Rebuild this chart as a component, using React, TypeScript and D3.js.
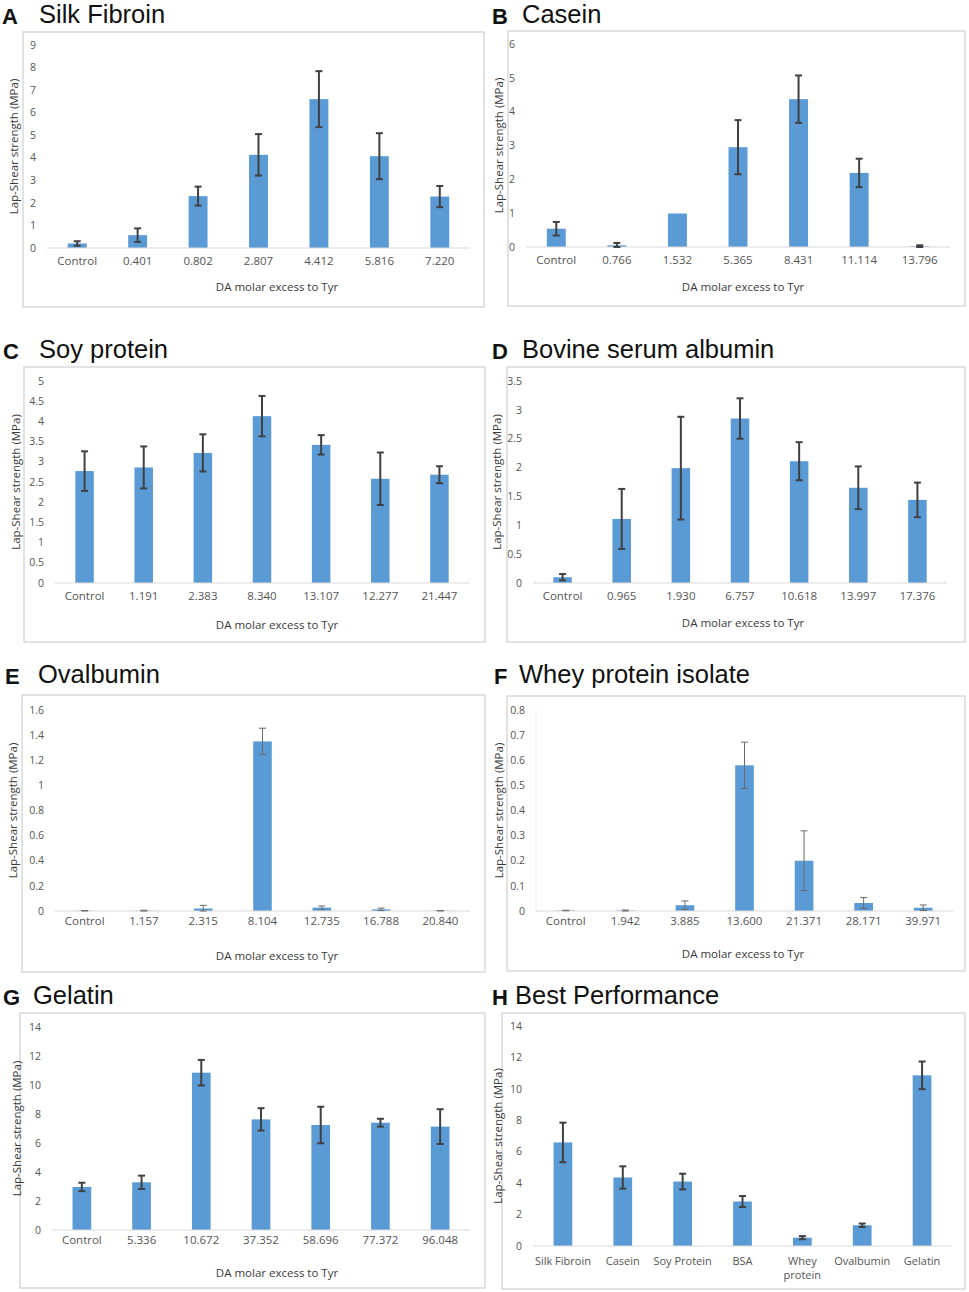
import React from 'react';
import * as d3 from 'd3';

// ---- data ----
const silkCats = ['Control', '0.401', '0.802', '2.807', '4.412', '5.816', '7.220'];
const silkMean = [0.2, 0.57, 2.3, 4.13, 6.6, 4.07, 2.28];
const silkErr = [0.1, 0.3, 0.42, 0.92, 1.24, 1.02, 0.47];

const caseinCats = ['Control', '0.766', '1.532', '5.365', '8.431', '11.114', '13.796'];
const caseinMean = [0.54, 0.05, 0.99, 2.95, 4.37, 2.19, 0.02];
const caseinErr = [0.2, 0.07, 0, 0.8, 0.7, 0.42, 0.03];

const soyCats = ['Control', '1.191', '2.383', '8.340', '13.107', '12.277', '21.447'];
const soyMean = [2.77, 2.86, 3.22, 4.13, 3.42, 2.58, 2.68];
const soyErr = [0.49, 0.52, 0.46, 0.5, 0.24, 0.65, 0.21];

const bsaCats = ['Control', '0.965', '1.930', '6.757', '10.618', '13.997', '17.376'];
const bsaMean = [0.1, 1.11, 1.99, 2.85, 2.11, 1.65, 1.44];
const bsaErr = [0.055, 0.52, 0.89, 0.35, 0.33, 0.37, 0.3];

const ovaCats = ['Control', '1.157', '2.315', '8.104', '12.735', '16.788', '20.840'];
const ovaMean = [0.002, 0.003, 0.02, 1.35, 0.027, 0.013, 0.002];
const ovaErr = [0.002, 0.003, 0.025, 0.105, 0.013, 0.01, 0.001];

const wheyCats = ['Control', '1.942', '3.885', '13.600', '21.371', '28.171', '39.971'];
const wheyMean = [0.002, 0.002, 0.023, 0.58, 0.2, 0.032, 0.013];
const wheyErr = [0.001, 0.002, 0.017, 0.092, 0.119, 0.022, 0.011];

const gelCats = ['Control', '5.336', '10.672', '37.352', '58.696', '77.372', '96.048'];
const gelMean = [2.97, 3.29, 10.85, 7.63, 7.24, 7.4, 7.13];
const gelErr = [0.29, 0.46, 0.88, 0.77, 1.26, 0.27, 1.2];

const bestCats = ['Silk Fibroin', 'Casein', 'Soy Protein', 'BSA', 'Whey\nprotein', 'Ovalbumin', 'Gelatin'];
const bestMean = [6.59, 4.36, 4.1, 2.83, 0.53, 1.32, 10.86];
const bestErr = [1.26, 0.71, 0.5, 0.35, 0.1, 0.11, 0.88];

const xTitle = 'DA molar excess to Tyr';
const yTitle = 'Lap-Shear strength (MPa)';

const BAR = '#5B9BD5';
const TICK = '#555555';
const TXT = '#3a3a3a';
const EDGE = '#d9d9d9';
const FONT = '"Open Sans", Lato, sans-serif';

interface PanelProps {
  letter: string;
  title: string;
  cats: string[];
  mean: number[];
  err: number[];
  yMax: number;
  step: number;
  box: [number, number, number, number];
  plot: [number, number, number, number]; // left, right, top, bottom
  head: [number, number, number]; // letter x, title x, baseline
  labelY: number;
  titleX: number;
  titleY: number | null;
  yTitleX: number;
  thin?: boolean;
  yLine?: boolean;
  catSize?: number;
}

const Panel: React.FC<PanelProps> = (p) => {
  const [l, r, t, b] = p.plot;
  const x = d3.scaleBand<string>().domain(p.cats).range([l, r]).paddingInner(0.687).paddingOuter(0.3435);
  const y = d3.scaleLinear().domain([0, p.yMax]).range([b, t]);
  const ticks = d3.range(0, p.yMax + p.step / 2, p.step);
  const bw = x.bandwidth();
  const errColor = p.thin ? '#6a6a6a' : '#404040';
  const errWidth = p.thin ? 1 : 2;
  return (
    <g>
      <rect x={p.box[0]} y={p.box[1]} width={p.box[2] - p.box[0]} height={p.box[3] - p.box[1]}
        fill="#fff" stroke={EDGE} strokeWidth={1.5} />
      <text x={p.head[0]} y={p.head[2] + 2} fontFamily="Liberation Sans, Arial, sans-serif"
        fontWeight="bold" fontSize={22} fill="#111">{p.letter}</text>
      <text x={p.head[1]} y={p.head[2] + 1} fontFamily="Liberation Sans, Arial, sans-serif"
        fontSize={25.5} fill="#111">{p.title}</text>
      {ticks.map((v) => (
        <text key={v} x={l - 11} y={y(v)} dy="0.35em" textAnchor="end" fontSize={10.5}
          fontFamily={FONT} fill={TICK}>{+v.toFixed(2)}</text>
      ))}
      {p.yLine && <line x1={l} x2={l} y1={t} y2={b} stroke="#eeeeee" strokeWidth={1} />}
      {p.mean.map((v, i) => (
        <rect key={i} x={x(p.cats[i])} y={y(v)} width={bw} height={Math.max(0, b - y(v))} fill={BAR} />
      ))}
      <line x1={l} x2={r} y1={b} y2={b} stroke={EDGE} strokeWidth={1.2} />
      {p.mean.map((v, i) => {
        if (!p.err[i]) return null;
        const cx = (x(p.cats[i]) as number) + bw / 2;
        const y1 = y(v + p.err[i]);
        const y2 = y(Math.max(0, v - p.err[i]));
        return (
          <g key={'e' + i} stroke={errColor} strokeWidth={errWidth}>
            <line x1={cx} x2={cx} y1={y1} y2={y2} />
            <line x1={cx - 3.5} x2={cx + 3.5} y1={y1} y2={y1} />
            <line x1={cx - 3.5} x2={cx + 3.5} y1={y2} y2={y2} />
          </g>
        );
      })}
      {p.cats.map((c) => {
        const lines = c.split('\n');
        const cx = (x(c) as number) + bw / 2;
        return (
          <text key={c} x={cx} y={p.labelY} textAnchor="middle"
            fontSize={p.catSize ?? 11.5} fontFamily={FONT} fill={TICK}>
            {lines.map((s, k) => (
              <tspan key={k} x={cx} dy={k === 0 ? '0.35em' : '1.25em'}>{s}</tspan>
            ))}
          </text>
        );
      })}
      {p.titleY !== null && (
        <text x={p.titleX} y={p.titleY} dy="0.35em" textAnchor="middle" fontSize={11.5}
          fontFamily={FONT} fill={TXT}>{xTitle}</text>
      )}
      <text transform={`translate(${p.yTitleX},${(t + b) / 2}) rotate(-90)`} dy="0.35em"
        textAnchor="middle" fontSize={11.5} fontFamily={FONT} fill={TXT}>{yTitle}</text>
    </g>
  );
};

export default function App() {
  return (
    <svg width={969} height={1292} style={{ position: 'absolute', left: 0, top: 0, background: '#fff' }}>
      <Panel letter="A" title="Silk Fibroin" cats={silkCats} mean={silkMean} err={silkErr} yMax={9} step={1}
        box={[23, 32, 484, 307]} plot={[47, 470, 45, 248]} head={[2, 39, 22]} labelY={261}
        titleX={277} titleY={287} yTitleX={14} />
      <Panel letter="B" title="Casein" cats={caseinCats} mean={caseinMean} err={caseinErr} yMax={6} step={1}
        box={[508, 31, 965, 306]} plot={[526, 950, 44, 247]} head={[492, 522, 22]} labelY={260}
        titleX={743} titleY={287} yTitleX={499} />
      <Panel letter="C" title="Soy protein" cats={soyCats} mean={soyMean} err={soyErr} yMax={5} step={0.5}
        box={[24, 367, 485, 642]} plot={[55, 469, 381, 583]} head={[3, 39, 357]} labelY={596}
        titleX={277} titleY={625} yTitleX={16} />
      <Panel letter="D" title="Bovine serum albumin" cats={bsaCats} mean={bsaMean} err={bsaErr} yMax={3.5} step={0.5}
        box={[507, 367, 965, 642]} plot={[533, 947, 381, 583]} head={[492, 522, 357]} labelY={596}
        titleX={743} titleY={623} yTitleX={497} />
      <Panel letter="E" title="Ovalbumin" cats={ovaCats} mean={ovaMean} err={ovaErr} yMax={1.6} step={0.2}
        box={[22, 695, 485, 972]} plot={[55, 470, 710, 911]} head={[5, 38, 682]} labelY={921}
        titleX={277} titleY={956} yTitleX={13} thin />
      <Panel letter="F" title="Whey protein isolate" cats={wheyCats} mean={wheyMean} err={wheyErr} yMax={0.8} step={0.1}
        box={[507, 696, 965, 971]} plot={[536, 953, 710, 911]} head={[494, 519, 682]} labelY={921}
        titleX={743} titleY={954} yTitleX={499} thin yLine />
      <Panel letter="G" title="Gelatin" cats={gelCats} mean={gelMean} err={gelErr} yMax={14} step={2}
        box={[20, 1013, 485, 1288]} plot={[52, 470, 1027, 1230]} head={[3, 33, 1003]} labelY={1240}
        titleX={277} titleY={1273} yTitleX={17} />
      <Panel letter="H" title="Best Performance" cats={bestCats} mean={bestMean} err={bestErr} yMax={14} step={2}
        box={[502, 1013, 965, 1289]} plot={[533, 952, 1026, 1246]} head={[492, 515, 1003]} labelY={1261}
        titleX={743} titleY={null} yTitleX={498} catSize={11} />
    </svg>
  );
}
